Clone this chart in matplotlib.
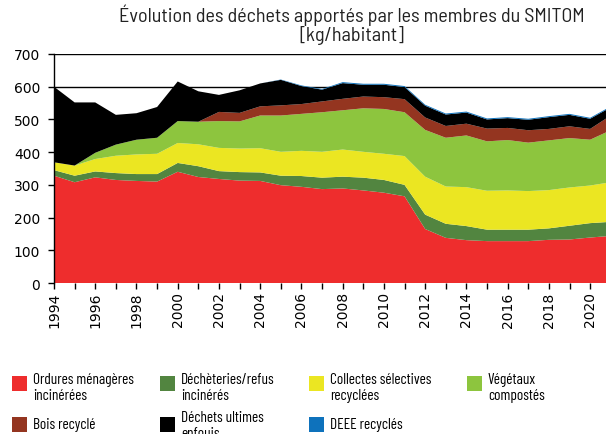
import matplotlib
matplotlib.use("Agg")
import matplotlib.pyplot as plt
from matplotlib.patches import Rectangle

years = list(range(1994, 2022))

ordures = [328, 308, 323, 315, 312, 310, 340, 324, 318, 313, 312, 299, 294, 287,
           289, 283, 276, 265, 165, 138, 131, 128, 128, 128, 132, 133, 139, 144]
decheteries = [17, 20, 18, 21, 21, 23, 27, 33, 24, 26, 26, 29, 33, 35,
               36, 39, 39, 35, 44, 43, 43, 35, 35, 35, 35, 42, 44, 43]
collectes = [24, 31, 38, 53, 60, 62, 61, 67, 71, 72, 74, 73, 77, 79,
             83, 79, 80, 88, 116, 114, 119, 119, 120, 118, 117, 117, 115, 121]
vegetaux = [0, 0, 19, 34, 45, 49, 67, 69, 82, 83, 100, 111, 113, 121,
            120, 133, 137, 134, 143, 149, 158, 151, 154, 148, 152, 151, 140, 159]
bois = [0, 0, 0, 0, 0, 0, 0, 0, 28, 26, 28, 31, 30, 33,
        35, 36, 36, 40, 38, 36, 36, 39, 37, 38, 35, 36, 33, 45]
ultimes = [231, 193, 154, 91, 81, 94, 121, 93, 52, 69, 70, 78, 55, 36,
           48, 36, 38, 37, 36, 35, 34, 28, 30, 32, 36, 35, 31, 25]
deee = [0, 0, 0, 0, 0, 0, 0, 0, 0, 0, 0, 1, 2, 2,
        3, 3, 3, 3, 3, 3, 3, 3, 3, 3, 3, 3, 3, 3]

labels = ["Ordures ménagères\nincinérées", "Déchèteries/refus\nincinérés",
          "Collectes sélectives\nrecyclées", "Végétaux\ncompostés",
          "Bois recyclé", "Déchets ultimes\nenfouis", "DEEE recyclés"]
colors = ["#EE2D2D", "#528540", "#EBE622", "#8DC53E", "#943520", "#000000", "#0E72BC"]

title = "Évolution des déchets apportés par les membres du SMITOM\n[kg/habitant]"
yticks = [0, 100, 200, 300, 400, 500, 600, 700]
xticklabels_years = list(range(1994, 2021, 2))

title_font = ['Barlow Semi Condensed', 'DejaVu Sans']
legend_font = ['Barlow Condensed', 'DejaVu Sans']
tick_font = ['DejaVu Sans']

fig = plt.figure(figsize=(6.06, 4.35), dpi=100)
ax = fig.add_axes([54/606, 1-284/435, 1-54/606, (284-55)/435])

series = [ordures, decheteries, collectes, vegetaux, bois, ultimes, deee]
ax.stackplot(years, *series, colors=colors, linewidth=0.3, edgecolor='none', zorder=2)

for y in [600, 700]:
    ax.axhline(y, color='black', lw=1.0, zorder=1)

ax.set_ylim(0, 700)
ax.set_xlim(1994, 2020.77)
ax.set_yticks(yticks)
ax.set_yticklabels([str(v) for v in yticks], family=tick_font, fontsize=10)
ax.set_xticks(years[:-1])
ax.set_xticklabels([str(y) if y in xticklabels_years else "" for y in years[:-1]],
                   rotation=90, family=tick_font, fontsize=10)
ax.tick_params(axis='x', direction='out', length=4, width=1, pad=2)
ax.tick_params(axis='y', direction='out', length=4, width=1, pad=6)
for side in ['top', 'right', 'bottom']:
    ax.spines[side].set_visible(False)
ax.spines['left'].set_linewidth(1)

fig.text(352/606, 1-5/435, title, ha='center', va='top', fontsize=14.5,
         family=title_font, fontweight='normal', color='#222222', linespacing=0.95)

# legend (manual layout)
col_x = [12, 160, 309, 467]
entries = [(0, 0), (1, 0), (2, 0), (3, 0), (0, 1), (1, 1), (2, 1)]
row_y = [384, 425]
for (c, r), lab, colr in zip(entries, labels, colors):
    x0 = col_x[c]
    yc = row_y[r]
    fig.patches.append(Rectangle((x0/606, 1-(yc+8)/435), 15/606, 15/435,
                                 transform=fig.transFigure, facecolor=colr,
                                 edgecolor='none'))
    if r == 0:
        ty = yc + 4
    elif '\n' in lab:
        ty = yc + 1
    else:
        ty = yc
    fig.text((x0+21)/606, 1-ty/435, lab, ha='left', va='center', fontsize=11,
             family=legend_font, linespacing=1.15)

fig.savefig("out.png", dpi=100)
